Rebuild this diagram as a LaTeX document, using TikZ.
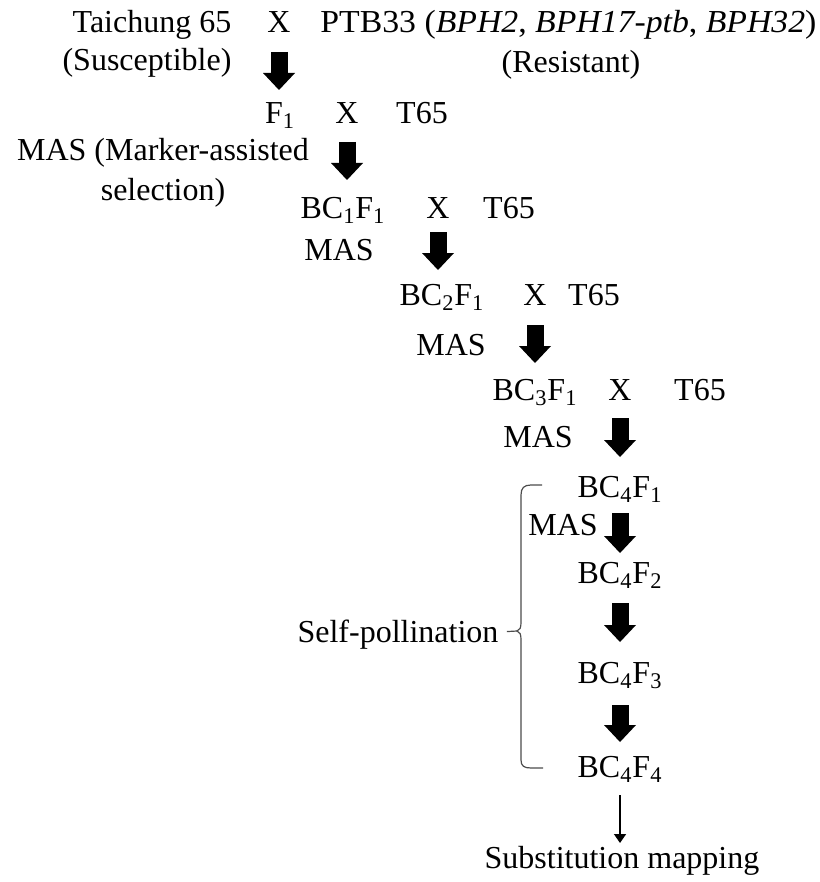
\documentclass[tikz,border=0pt]{standalone}
\usepackage{fontspec}
\setmainfont{Liberation Serif}
\newfontfamily\widefont{Liberation Serif}[FakeStretch=1.055]
\usetikzlibrary{arrows.meta}

\tikzset{
  txt/.style={inner sep=0pt, text height=10.6pt, text depth=0pt, font=\fontsize{16pt}{20pt}\selectfont},
  fatarrow/.style 2 args={line width=8.5pt, -{Triangle[length=8.5pt,width=16pt,line width=0pt]}, shorten <=#1, shorten >=#2},
  thinarrow/.style={line width=0.75pt, -{Triangle[length=4.5pt,width=6pt]}},
  bracket/.style={line width=0.6pt, black!70},
}

\begin{document}
\begin{tikzpicture}[x=0.5pt,y=-0.5pt]
  \useasboundingbox (0,0) rectangle (819,882);
  % parents
  \node[txt] (t65) at (152,22) {Taichung 65};
  \node[txt] (x0) at (279,22) {X};
  \node[txt, anchor=west] (ptb) at (320,22) {\widefont PTB33 (\textit{BPH2}, \textit{BPH17-ptb}, \textit{BPH32})};
  \node[txt] (sus) at (147,60) {(Susceptible)};
  \node[txt] (res) at (571,62) {(Resistant)};
  % backcrosses
  \node[txt] (f1) at (280,113) {F\textsubscript{1}};
  \node[txt] (x1) at (347,113) {X};
  \node[txt] (ta) at (422,113) {T65};
  \node[inner sep=0pt, align=center, font=\fontsize{16pt}{20pt}\selectfont, anchor=north] (mas1) at (163,138) {MAS (Marker-assisted\\selection)};
  \node[txt] (bc1) at (343,208) {BC\textsubscript{1}F\textsubscript{1}};
  \node[txt] (x2) at (438,208) {X};
  \node[txt] (tb) at (509,208) {T65};
  \node[txt] (mas2) at (339,250) {MAS};
  \node[txt] (bc2) at (442,295) {BC\textsubscript{2}F\textsubscript{1}};
  \node[txt] (x3) at (535,295) {X};
  \node[txt] (tc) at (594,295) {T65};
  \node[txt] (mas3) at (451,345) {MAS};
  \node[txt] (bc3) at (535,390) {BC\textsubscript{3}F\textsubscript{1}};
  \node[txt] (x4) at (620,390) {X};
  \node[txt] (td) at (700,390) {T65};
  \node[txt] (mas4) at (538,437) {MAS};
  % selfing
  \node[txt] (bc41) at (620,487) {BC\textsubscript{4}F\textsubscript{1}};
  \node[txt] (mas5) at (563,525) {MAS};
  \node[txt] (bc42) at (620,573) {BC\textsubscript{4}F\textsubscript{2}};
  \node[txt] (bc43) at (620,673) {BC\textsubscript{4}F\textsubscript{3}};
  \node[txt] (bc44) at (620,767) {BC\textsubscript{4}F\textsubscript{4}};
  \node[txt] (sub) at (622,858) {Substitution mapping};
  \node[txt] (self) at (398,632) {Self-pollination};

  \draw[fatarrow={15pt}{11.5pt}] (x0.center) -- (x0.center |- f1.center);
  \draw[fatarrow={14.5pt}{14pt}] (x1.center) -- (x1.center |- bc1.center);
  \draw[fatarrow={12pt}{12.5pt}] (x2.center) -- (x2.center |- bc2.center);
  \draw[fatarrow={15pt}{13.5pt}] (x3.center) -- (x3.center |- bc3.center);
  \draw[fatarrow={14pt}{15pt}] (x4.center) -- (x4.center |- bc41.center);
  \draw[fatarrow={13pt}{10pt}] (bc41.center) -- (bc42.center);
  \draw[fatarrow={15pt}{15.5pt}] (bc42.center) -- (bc43.center);
  \draw[fatarrow={16pt}{12.5pt}] (bc43.center) -- (bc44.center);
  \draw[thinarrow, shorten <=14pt, shorten >=7.5pt] (bc44.center) -- (bc44.center |- sub.center);

  % brace
  \coordinate (btip) at (517,631);
  \draw[bracket] (542,485) -- (531,485) .. controls (524,485) and (521,488) .. (521,495)
    -- (521,622) .. controls (521,628) and (520,630) .. (btip)
    .. controls (520,632) and (521,634) .. (521,640)
    -- (521,760) .. controls (521,766) and (524,768) .. (531,768) -- (543,768);
  \draw[bracket, shorten >=4pt] (btip) -- (self.east);
\end{tikzpicture}
\end{document}
